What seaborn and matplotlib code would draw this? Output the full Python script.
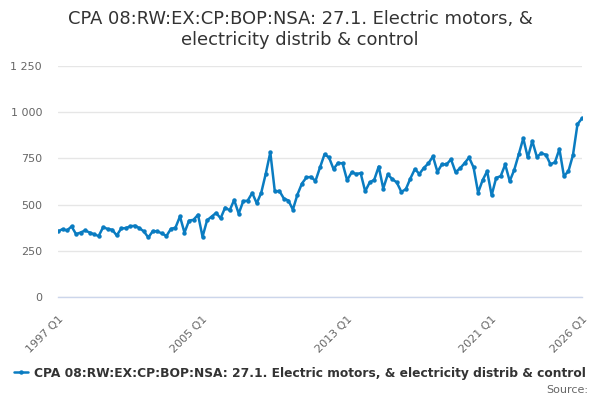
import matplotlib
matplotlib.use("Agg")
import matplotlib.pyplot as plt
import seaborn as sns
import pandas as pd
import numpy as np

# ---- data ----
start_year = 1997
values = [
    355, 367, 360, 382, 340, 349, 360, 349, 339, 330,
    378, 368, 364, 333, 371, 373, 382, 386, 373, 355,
    322, 357, 355, 344, 330, 369, 375, 436, 348, 413,
    418, 445, 326, 415, 435, 455, 426, 484, 469, 525,
    451, 518, 522, 563, 507, 565, 668, 783, 571, 574,
    533, 522, 473, 554, 614, 647, 650, 628, 701, 772,
    755, 692, 726, 723, 632, 674, 666, 670, 572, 620,
    634, 706, 587, 663, 638, 620, 569, 583, 641, 692,
    666, 699, 723, 761, 677, 719, 717, 745, 676, 696,
    724, 755, 701, 565, 632, 681, 551, 645, 654, 717,
    627, 688, 772, 859, 755, 844, 759, 777, 770, 719,
    728, 801, 654, 681, 768, 935, 967,
]
periods = [f"{start_year + i // 4} Q{i % 4 + 1}" for i in range(len(values))]
series_name = "CPA 08:RW:EX:CP:BOP:NSA: 27.1. Electric motors, & electricity distrib & control"
title = "CPA 08:RW:EX:CP:BOP:NSA: 27.1. Electric motors, &\nelectricity distrib & control"
label_periods = ["1997 Q1", "2005 Q1", "2013 Q1", "2021 Q1", "2026 Q1"]
y_ticks = [0, 250, 500, 750, 1000, 1250]
y_tick_labels = ["0", "250", "500", "750", "1 000", "1 250"]

df = pd.DataFrame({"idx": np.arange(len(values)), "period": periods, "value": values})

sns.set_theme(style="white")
plt.rcParams["font.family"] = ["DejaVu Sans"]

fig = plt.figure(figsize=(6, 4), dpi=100)
ax = fig.add_axes([58 / 600, 1 - 297 / 400, 524 / 600, (297 - 66) / 400])

color = "#0a7cc1"
sns.lineplot(data=df, x="idx", y="value", ax=ax, color=color, linewidth=1.8,
             marker="o", markersize=3.2, markeredgewidth=0, label=series_name,
             legend=False)

ax.set_xlim(0, len(values) - 1)
ax.set_ylim(0, 1250)

# y axis
ax.set_yticks(y_ticks)
ax.set_yticklabels(y_tick_labels)
ax.yaxis.grid(True, color="#e6e6e6", linewidth=1)
ax.tick_params(axis="y", length=0, labelsize=8, labelcolor="#666666", pad=11.5)

# x axis
tick_pos = list(range(0, 105, 8)) + [len(values) - 1]
ax.set_xticks(tick_pos)
ax.set_xticklabels([periods[i] if periods[i] in label_periods else "" for i in tick_pos],
                   rotation=45, ha="right", rotation_mode="anchor")
ax.tick_params(axis="x", length=10, width=1, color="#ccd6eb", labelsize=8,
               labelcolor="#666666", pad=2, direction="out")
for s in ["top", "right", "left"]:
    ax.spines[s].set_visible(False)
ax.spines["bottom"].set_color("#ccd6eb")
ax.spines["bottom"].set_linewidth(1)
ax.set_xlabel("")
ax.set_ylabel("")

fig.suptitle(title, x=0.5, y=1 - 10 / 400, fontsize=12.9, color="#333333", va="top", linespacing=1.2)

handles, labels = ax.get_legend_handles_labels()
leg = fig.legend(handles, labels, loc="center", bbox_to_anchor=(0.5, 1 - 373 / 400),
                 frameon=False, handlelength=1.2, handletextpad=0.5,
                 prop={"weight": "bold", "size": 8.8})
for t in leg.get_texts():
    t.set_color("#333333")

fig.text(0.98, 1 - 390 / 400, "Source:", ha="right", va="center", fontsize=8, color="#666666")

fig.savefig("out.png", dpi=100)
